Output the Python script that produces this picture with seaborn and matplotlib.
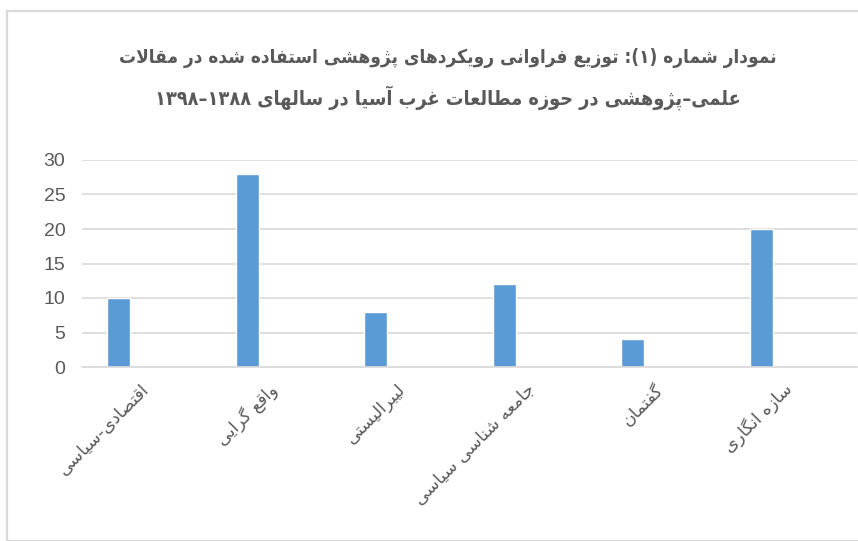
import numpy as np
import pandas as pd
import matplotlib
matplotlib.use("Agg")
import matplotlib.pyplot as plt
import seaborn as sns
from matplotlib.patches import Rectangle

# ---- data ----
categories = ["اقتصادی-سیاسی", "واقع گرایی", "لیبرالیستی", "جامعه شناسی سیاسی", "گفتمان", "سازه انگاری"]
values = [10, 28, 8, 12, 4, 20]
yticks = [0, 5, 10, 15, 20, 25, 30]
title_line1 = "نمودار شماره (۱): توزیع فراوانی رویکردهای پژوهشی استفاده شده در مقالات"
title_line2 = "علمی–پژوهشی در حوزه مطالعات غرب آسیا در سالهای ۱۳۸۸–۱۳۹۸"

# ---- minimal Arabic/Persian shaping + visual reordering ----
FORMS = {  # isolated, final, initial, medial
    '\u0621': (0xFE80, None, None, None),
    '\u0622': (0xFE81, 0xFE82, None, None),
    '\u0623': (0xFE83, 0xFE84, None, None),
    '\u0624': (0xFE85, 0xFE86, None, None),
    '\u0625': (0xFE87, 0xFE88, None, None),
    '\u0626': (0xFE89, 0xFE8A, 0xFE8B, 0xFE8C),
    '\u0627': (0xFE8D, 0xFE8E, None, None),
    '\u0628': (0xFE8F, 0xFE90, 0xFE91, 0xFE92),
    '\u0629': (0xFE93, 0xFE94, None, None),
    '\u062A': (0xFE95, 0xFE96, 0xFE97, 0xFE98),
    '\u062B': (0xFE99, 0xFE9A, 0xFE9B, 0xFE9C),
    '\u062C': (0xFE9D, 0xFE9E, 0xFE9F, 0xFEA0),
    '\u062D': (0xFEA1, 0xFEA2, 0xFEA3, 0xFEA4),
    '\u062E': (0xFEA5, 0xFEA6, 0xFEA7, 0xFEA8),
    '\u062F': (0xFEA9, 0xFEAA, None, None),
    '\u0630': (0xFEAB, 0xFEAC, None, None),
    '\u0631': (0xFEAD, 0xFEAE, None, None),
    '\u0632': (0xFEAF, 0xFEB0, None, None),
    '\u0633': (0xFEB1, 0xFEB2, 0xFEB3, 0xFEB4),
    '\u0634': (0xFEB5, 0xFEB6, 0xFEB7, 0xFEB8),
    '\u0635': (0xFEB9, 0xFEBA, 0xFEBB, 0xFEBC),
    '\u0636': (0xFEBD, 0xFEBE, 0xFEBF, 0xFEC0),
    '\u0637': (0xFEC1, 0xFEC2, 0xFEC3, 0xFEC4),
    '\u0638': (0xFEC5, 0xFEC6, 0xFEC7, 0xFEC8),
    '\u0639': (0xFEC9, 0xFECA, 0xFECB, 0xFECC),
    '\u063A': (0xFECD, 0xFECE, 0xFECF, 0xFED0),
    '\u0641': (0xFED1, 0xFED2, 0xFED3, 0xFED4),
    '\u0642': (0xFED5, 0xFED6, 0xFED7, 0xFED8),
    '\u0643': (0xFED9, 0xFEDA, 0xFEDB, 0xFEDC),
    '\u0644': (0xFEDD, 0xFEDE, 0xFEDF, 0xFEE0),
    '\u0645': (0xFEE1, 0xFEE2, 0xFEE3, 0xFEE4),
    '\u0646': (0xFEE5, 0xFEE6, 0xFEE7, 0xFEE8),
    '\u0647': (0xFEE9, 0xFEEA, 0xFEEB, 0xFEEC),
    '\u0648': (0xFEED, 0xFEEE, None, None),
    '\u0649': (0xFEEF, 0xFEF0, None, None),
    '\u064A': (0xFEF1, 0xFEF2, 0xFEF3, 0xFEF4),
    '\u067E': (0xFB56, 0xFB57, 0xFB58, 0xFB59),
    '\u0686': (0xFB7A, 0xFB7B, 0xFB7C, 0xFB7D),
    '\u0698': (0xFB8A, 0xFB8B, None, None),
    '\u06A9': (0xFB8E, 0xFB8F, 0xFB90, 0xFB91),
    '\u06AF': (0xFB92, 0xFB93, 0xFB94, 0xFB95),
    '\u06CC': (0xFBFC, 0xFBFD, 0xFBFE, 0xFBFF),
}
LAMALEF = {'\u0622': (0xFEF5, 0xFEF6), '\u0623': (0xFEF7, 0xFEF8),
           '\u0625': (0xFEF9, 0xFEFA), '\u0627': (0xFEFB, 0xFEFC)}


def dual(c):
    return c in FORMS and FORMS[c][2] is not None


def joining(c):
    return c in FORMS and c != '\u0621'


def shape(text):
    out = []
    n = len(text)
    i = 0
    while i < n:
        c = text[i]
        if c not in FORMS:
            if c != '\u200c':
                out.append(c)
            i += 1
            continue
        prev = text[i - 1] if i > 0 else ''
        jp = joining(c) and dual(prev)
        if c == '\u0644' and i + 1 < n and text[i + 1] in LAMALEF:
            iso, fin = LAMALEF[text[i + 1]]
            out.append(chr(fin if jp else iso))
            i += 2
            continue
        nxt = text[i + 1] if i + 1 < n else ''
        jn = dual(c) and joining(nxt)
        iso, fin, ini, med = FORMS[c]
        if jp and jn:
            code = med
        elif jp:
            code = fin
        elif jn:
            code = ini
        else:
            code = iso
        out.append(chr(code))
        i += 1
    # visual reorder: reverse, keep digit runs LTR, mirror brackets
    tokens = []
    for ch in out:
        if ch.isdigit() and tokens and tokens[-1][0].isdigit():
            tokens[-1] += ch
        else:
            tokens.append(ch)
    mirror = {'(': ')', ')': '('}
    return ''.join(mirror.get(t, t) for t in reversed(tokens))


# ---- figure ----
sns.set_theme(style="white")
plt.rcParams['font.family'] = ['DejaVu Sans']

fig = plt.figure(figsize=(8.58, 5.41), dpi=100)
fig.patch.set_facecolor("white")
fig.patches.append(Rectangle((7 / 858, 0), 1, 1 - 11 / 541, transform=fig.transFigure,
                             fill=False, edgecolor="#d9d9d9", linewidth=1.6))

ax = fig.add_axes([82 / 858, 1 - 367 / 541, 775 / 858, 207 / 541])

pos = np.arange(len(values)) - 0.214
sns.barplot(x=pos, y=values, native_scale=True, width=0.179, color="#5b9bd5",
            saturation=1, ax=ax)

ax.set_xlim(-0.5, -0.5 + 775 / 128.5)
ax.set_ylim(0, 30)
ax.set_yticks(yticks)
ax.set_yticklabels([str(v) for v in yticks], fontsize=14, color="#595959",
                   fontfamily="Liberation Sans")
ax.set_xticks(np.arange(len(categories)))
ax.set_xticklabels([shape(c) for c in categories], rotation=45, rotation_mode="anchor",
                   ha="right", va="center", fontsize=12.5, color="#595959")
ax.tick_params(axis="both", length=0)
ax.tick_params(axis="y", pad=12)
ax.tick_params(axis="x", pad=14)
ax.set_xlabel("")
ax.set_ylabel("")
ax.yaxis.grid(True, color="#d9d9d9", linewidth=1.2)
ax.set_axisbelow(True)
for s in ["top", "right", "left"]:
    ax.spines[s].set_visible(False)
ax.spines["bottom"].set_color("#d9d9d9")
ax.spines["bottom"].set_linewidth(1.2)

fig.text(448 / 858, 1 - 58 / 541, shape(title_line1), ha="center", va="center",
         fontsize=13.6, fontweight="bold", fontstretch="condensed", color="#595959")
fig.text(448 / 858, 1 - 98 / 541, shape(title_line2), ha="center", va="center",
         fontsize=14.2, fontweight="bold", fontstretch="condensed", color="#595959")

fig.savefig("out.png", dpi=100, facecolor="white")
